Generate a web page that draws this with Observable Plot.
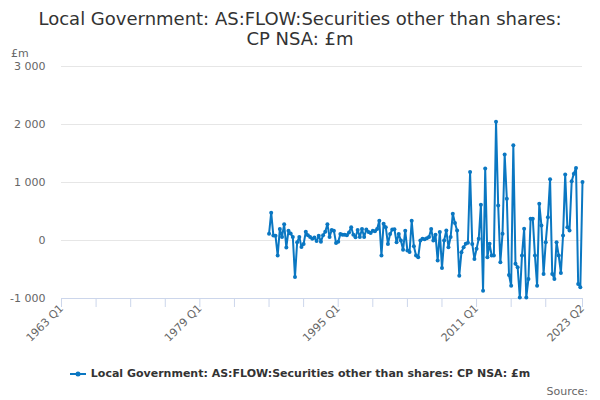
<!DOCTYPE html>
<html>
<head>
<meta charset="utf-8">
<script src="https://cdn.jsdelivr.net/npm/d3@7"></script>
<script src="https://cdn.jsdelivr.net/npm/@observablehq/plot@0.6"></script>
<style>
  body { margin: 0; background: #fff; font-family: "DejaVu Sans", sans-serif; }
  #wrap { position: relative; width: 600px; height: 400px; overflow: hidden; background: #fff; }
  #title { position: absolute; top: 9px; left: 0; width: 600px; text-align: center; font-size: 18px; line-height: 20px; color: #333; }
  #unit { position: absolute; left: 11px; top: 47px; font-size: 11px; color: #666; }
  #chart { position: absolute; left: 0; top: 56px; }
  #legend { position: absolute; top: 367px; left: 0; width: 600px; display: flex; justify-content: center; align-items: center; font-size: 11px; line-height: 14px; font-weight: bold; color: #333; }
  #legend svg { margin-right: 5px; }
  #source { position: absolute; right: 12px; top: 385px; font-size: 11px; color: #666; }
</style>
</head>
<body>
<div id="wrap">
  <div id="title">Local Government: AS:FLOW:Securities other than shares:<br>CP NSA: £m</div>
  <div id="unit">£m</div>
  <div id="chart"></div>
  <div id="legend"></div>
  <div id="source">Source:</div>
</div>
<script>
// ---- data (quarterly, £m), 1987 Q1 .. 2023 Q2 ----
const seriesName = "Local Government: AS:FLOW:Securities other than shares: CP NSA: £m";
const startYear = 1987;
const values = [
  115, 480, 85, 80,        // 1987
  -260, 200, 60, 280,      // 1988
  -120, 170, 120, 60,      // 1989
  -630, -30, 60, -110,     // 1990
  -60, 150, 90, 60,        // 1991
  30, 50, -10, 80,         // 1992
  -20, 90, 150, 280,       // 1993
  60, 180, 170, -45,       // 1994
  -20, 110, 100, 100,      // 1995
  90, 140, 230, 100,       // 1996
  57, 180, 60, 200,        // 1997
  60, 190, 145, 130,       // 1998
  170, 160, 200, 340,      // 1999
  -260, 290, 230, -60,     // 2000
  110, 190, 195, -30,      // 2001
  110, 0, -160, 170,       // 2002
  -173, -200, 340, -100,   // 2003
  -260, -290, 0, 30,       // 2004
  20, 40, 60, 200,         // 2005
  0, 100, -346, 145,       // 2006
  -473, 0, 173, -115,      // 2007
  60, 460, 300, 173,       // 2008
  -606, -202, -115, -57,   // 2009
  -40, 1182, -60, -317,    // 2010
  -144, 30, 618, -865,     // 2011
  1240, -289, -57, -260,   // 2012
  -260, 2047, 605, -375,   // 2013
  115, 1482, 720, -594,    // 2014
  -779, 1644, -403, -461,  // 2015
  -981, -260, 202, -981,   // 2016
  -663, 375, 375, -260,    // 2017
  -779, 635, 260, -576,    // 2018
  -29, 403, 1055, -576,    // 2019
  -663, -29, -260, -559,   // 2020
  87, 1136, 230, 173,      // 2021
  1020, 1153, 1251, -750,  // 2022
  -807, 1009               // 2023
];
const yTicks = [-1000, 0, 1000, 2000, 3000];
const gridTicks = [0, 1000, 2000, 3000];
const labelTicks = [1963, 1979, 1995, 2011, 2023.25];
const tickLabels = ["1963 Q1", "1979 Q1", "1995 Q1", "2011 Q1", "2023 Q2"];
const minorTicks = [1963, 1967, 1971, 1975, 1979, 1983, 1987, 1991, 1995, 1999, 2003, 2007, 2011, 2015, 2019, 2023.25];
const xDomain = [1963, 2023.25];
const yDomain = [-1000, 3000];

const lineColor = "#0a77c2";
const axisColor = "#ccd6eb";

const data = values.map((v, i) => ({ t: startYear + i / 4, v }));

const fmtY = d => (d < 0 ? "-" : "") + d3.format(",")(Math.abs(d)).replace(/,/g, " ");
const labelOf = d => tickLabels[labelTicks.indexOf(d)] ?? "";

const chart = Plot.plot({
  width: 600,
  height: 300,
  marginLeft: 61,
  marginRight: 18,
  marginTop: 10,
  marginBottom: 58,
  style: { fontFamily: "DejaVu Sans, sans-serif", background: "transparent" },
  x: { domain: xDomain },
  y: { domain: yDomain },
  marks: [
    Plot.gridY(gridTicks, { stroke: "#e6e6e6", strokeOpacity: 1 }),
    Plot.ruleY([yDomain[0]], { stroke: axisColor }),
    Plot.axisY(yTicks, { tickSize: 0, tickPadding: 16, tickFormat: fmtY, fontSize: 11, color: "#666", label: null }),
    Plot.axisX(minorTicks, { tickSize: 9, tickFormat: () => "", stroke: axisColor, strokeOpacity: 1, label: null }),
    Plot.axisX(labelTicks, { tickSize: 0, tickPadding: 8, tickRotate: -45, tickFormat: labelOf, fontSize: 11, color: "#666", label: null }),
    Plot.line(data, { x: "t", y: "v", stroke: lineColor, strokeWidth: 2 }),
    Plot.dot(data, { x: "t", y: "v", r: 2, fill: lineColor, stroke: "none" })
  ]
});
document.getElementById("chart").appendChild(chart);

// legend
const legend = document.getElementById("legend");
legend.innerHTML =
  `<svg width="16" height="10"><line x1="0" y1="5" x2="16" y2="5" stroke="${lineColor}" stroke-width="2"/><circle cx="8" cy="5" r="2.5" fill="${lineColor}"/></svg><span></span>`;
legend.querySelector("span").textContent = seriesName;
</script>
</body>
</html>
